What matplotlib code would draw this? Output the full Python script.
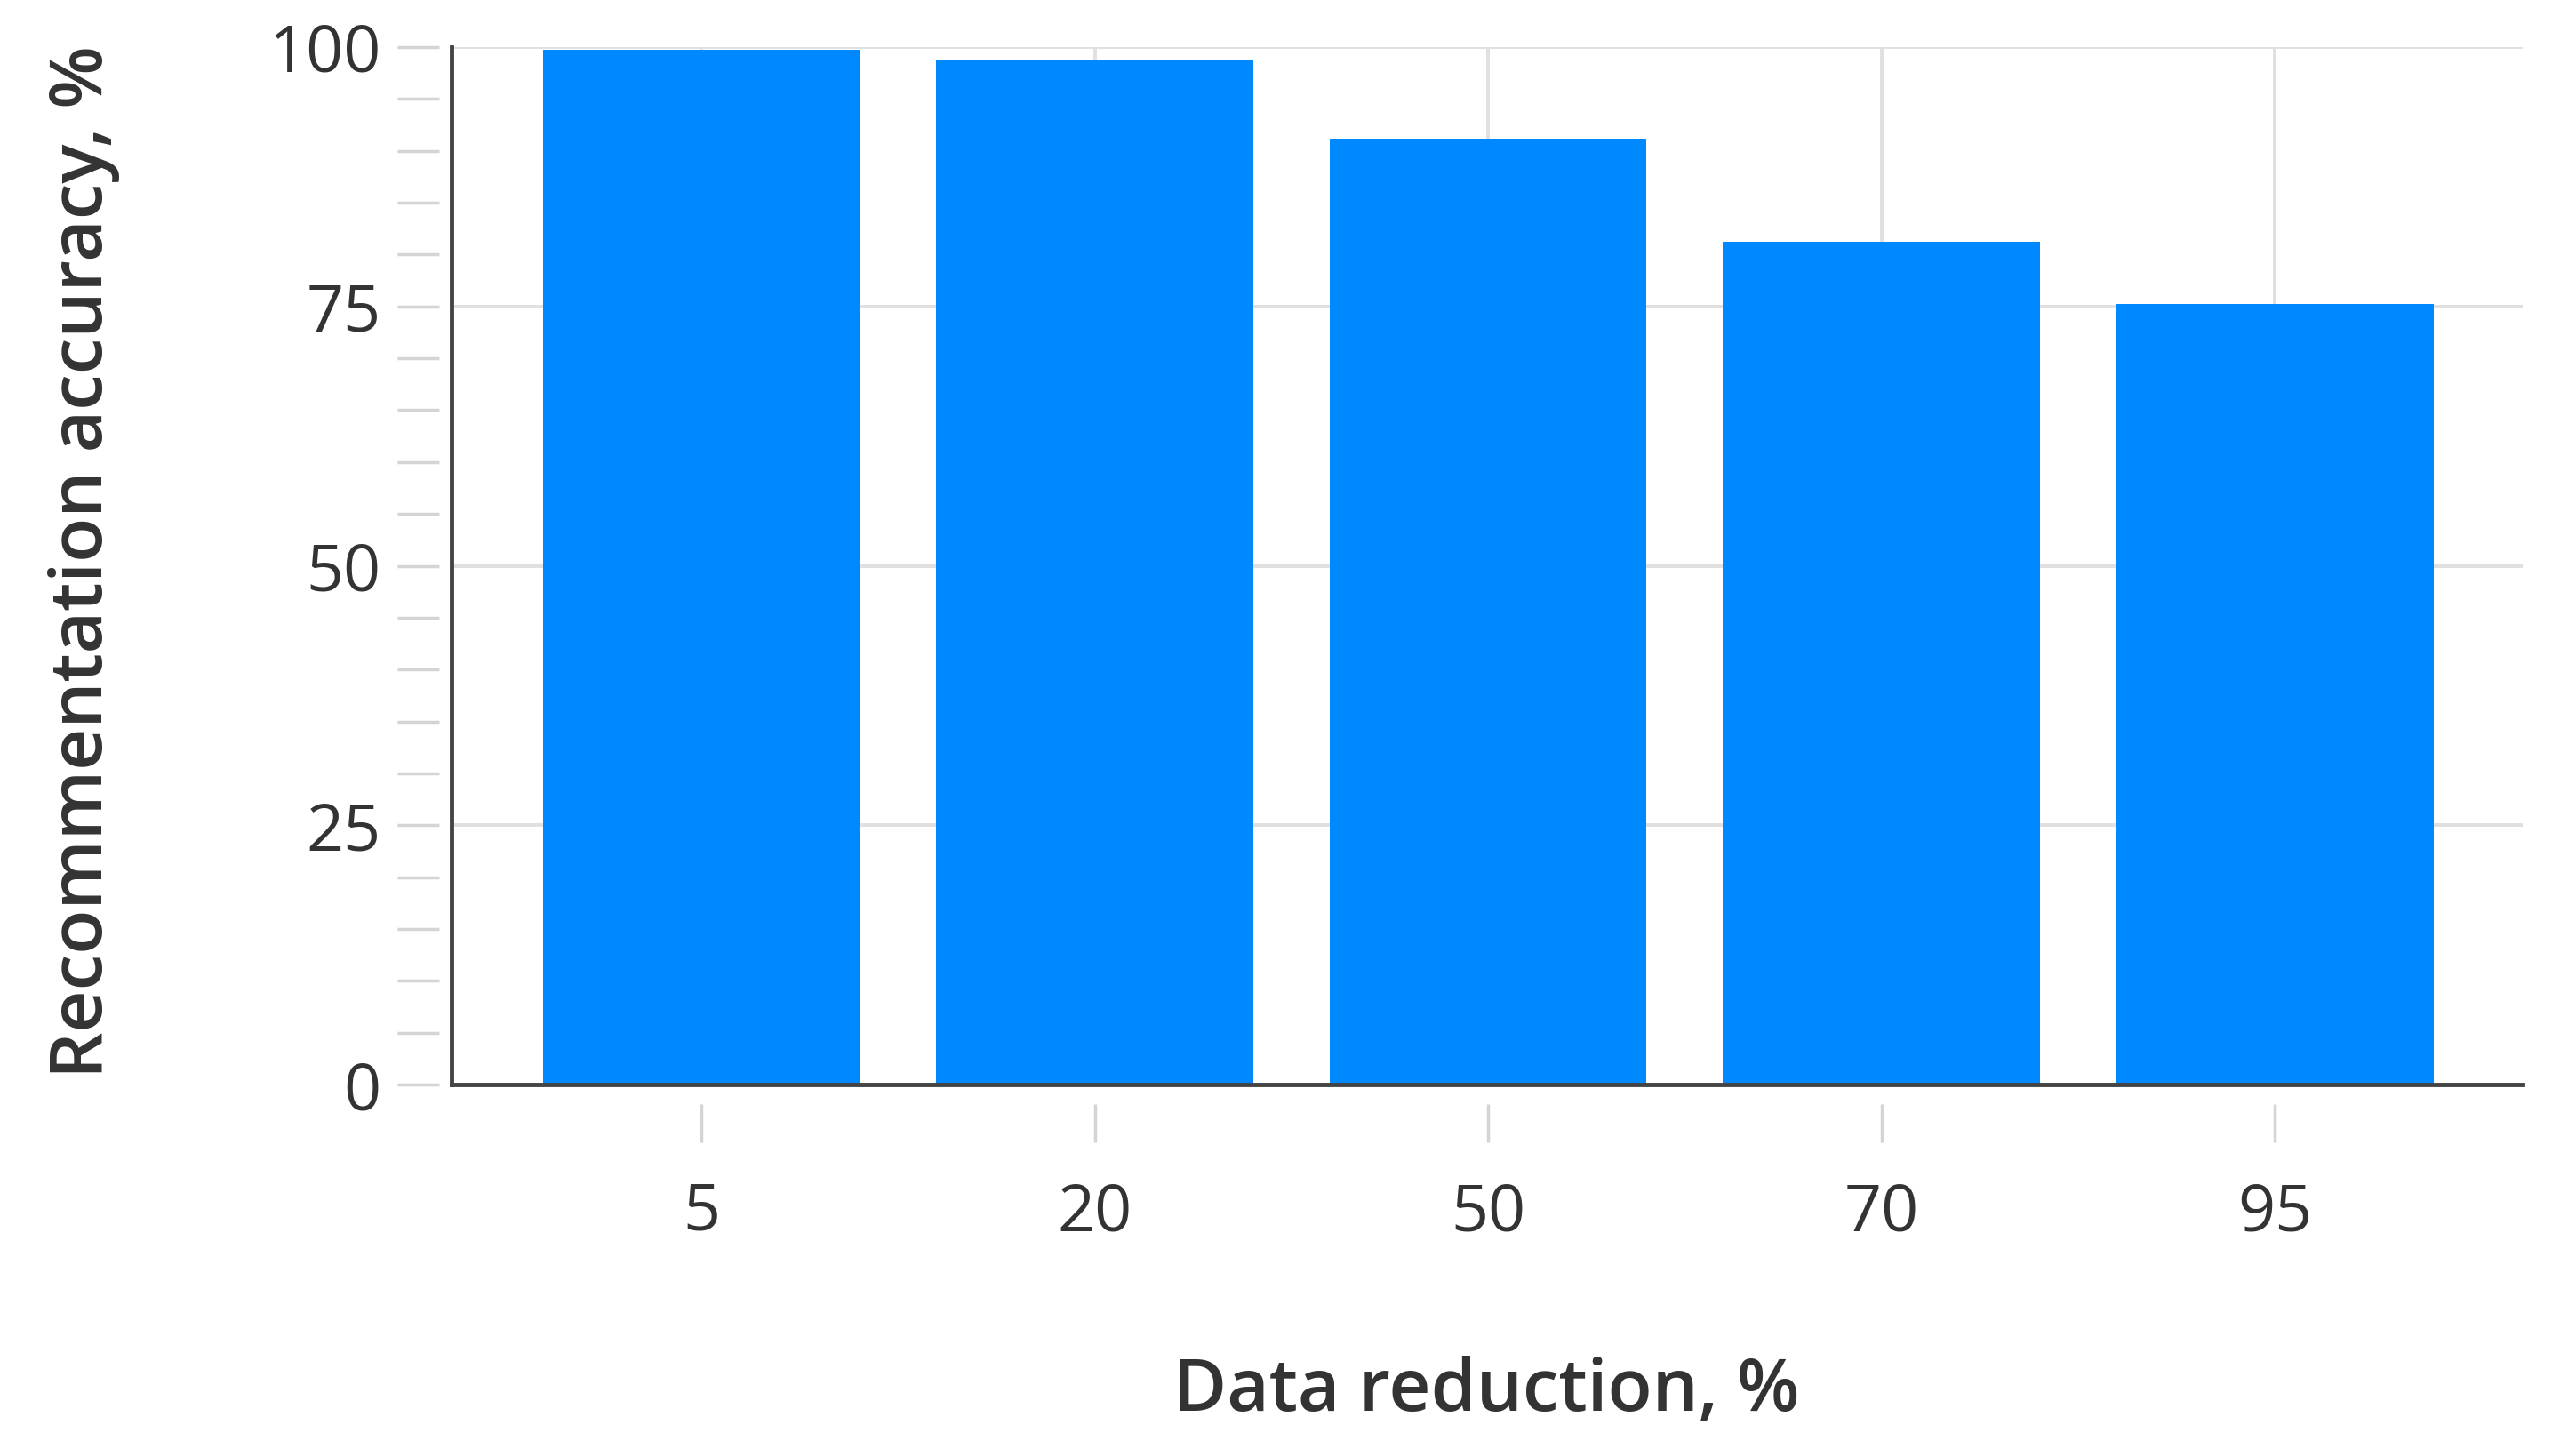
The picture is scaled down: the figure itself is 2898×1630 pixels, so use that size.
import numpy as np
import matplotlib
matplotlib.use('Agg')
import matplotlib.pyplot as plt
from matplotlib.ticker import MultipleLocator

plt.rcParams['font.family'] = ['Open Sans', 'DejaVu Sans']

# 数据
categories = ['5', '20', '50', '70', '95']
accuracy = [99.7, 98.8, 91.2, 81.2, 75.2]
y_major = [0, 25, 50, 75, 100]

BAR_COLOR = '#0088ff'
GRID_COLOR = '#e0e0e0'
TICK_COLOR = '#d4d4d4'
TEXT_COLOR = '#333333'
SPINE_COLOR = '#444444'

fig = plt.figure(figsize=(28.98, 16.30), dpi=100)
ax = fig.add_axes([0.1753, 0.2515, 0.804, 0.716])

x = np.arange(len(categories))
ax.bar(x, accuracy, width=0.806, color=BAR_COLOR, zorder=2)

ax.set_xlim(-0.635, 4.63)
ax.set_ylim(0, 100)
ax.set_xticks(x)
ax.set_yticks(y_major)
ax.grid(True, color=GRID_COLOR, linewidth=2.8, zorder=0)
ax.set_axisbelow(True)
ax.tick_params(length=0, labelleft=False, labelbottom=False)

for side in ['top', 'right']:
    ax.spines[side].set_visible(False)
for side in ['left', 'bottom']:
    ax.spines[side].set_color(SPINE_COLOR)
    ax.spines[side].set_linewidth(3.5)
    ax.spines[side].set_zorder(3)

# 刻度与坐标轴之间留有空隙，用次坐标轴画刻度
secx = ax.secondary_xaxis(-0.019)
secx.set_xticks(x, labels=categories)
secx.spines['bottom'].set_visible(False)
secx.tick_params(length=31, width=2.5, color=TICK_COLOR, pad=31,
                 labelsize=53, labelcolor=TEXT_COLOR)

secy = ax.secondary_yaxis(-0.006)
secy.set_yticks(y_major)
secy.yaxis.set_minor_locator(MultipleLocator(5))
secy.spines['left'].set_visible(False)
secy.tick_params(which='both', length=34, width=2.5, color=TICK_COLOR, pad=13,
                 labelsize=53, labelcolor=TEXT_COLOR)

fig.text(0.577, 0.0264, 'Data reduction, %', ha='center', va='baseline',
         fontsize=59, fontweight='semibold', color=TEXT_COLOR)
fig.text(0.0325, 0.612, 'Recommentation accuracy, %', ha='center', va='center',
         rotation=90, fontsize=59, fontweight='semibold', color=TEXT_COLOR)

fig.savefig('out.png', dpi=100, facecolor='white')
